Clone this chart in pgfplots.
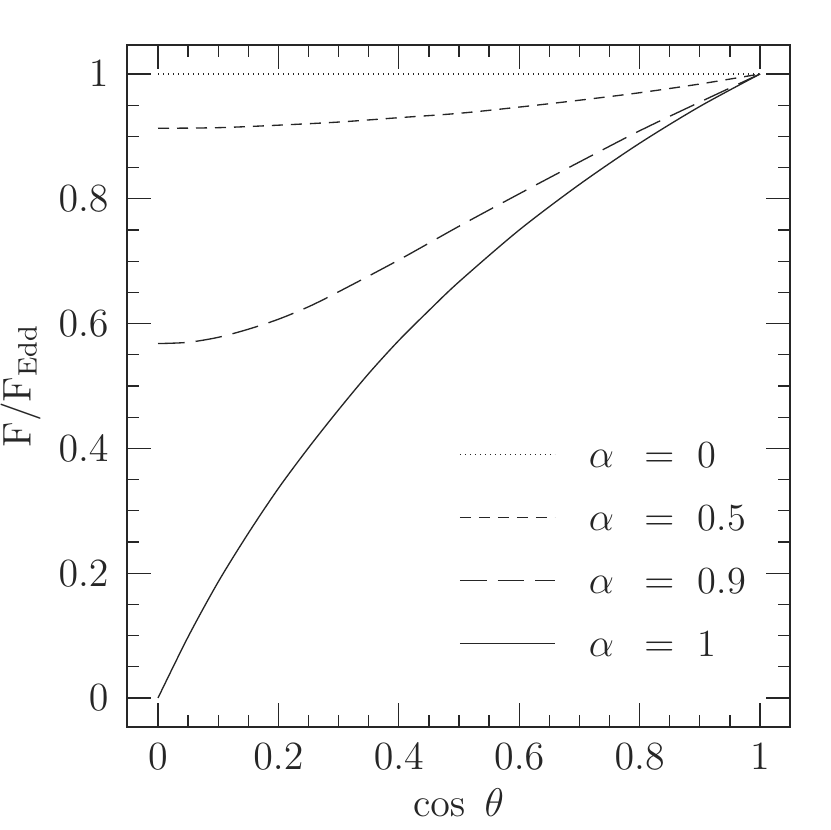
\documentclass[border=0pt]{standalone}
\usepackage{pgfplots}
\pgfplotsset{compat=1.18}
\usetikzlibrary{calc}
\begin{document}
\begin{tikzpicture}
\begin{axis}[
    name=ax,
    scale only axis,
    width=198.9pt, height=204.6pt,
    xmin=-0.0515, xmax=1.0498,
    ymin=-0.0465, ymax=1.0465,
    xtick={0,0.2,0.4,0.6,0.8,1},
    ytick={0,0.2,0.4,0.6,0.8,1},
    minor tick num=3,
    tick align=inside,
    major tick length=7.2pt,
    minor tick length=3.6pt,
    axis line style={black!85, line width=0.4pt},
    every tick/.style={black!85, line width=0.4pt},
    tick label style={font=\fontsize{11.5}{13}\selectfont, black!85},
    xticklabel style={yshift=-1.5pt},
    yticklabel style={xshift=-2pt},
    label style={font=\fontsize{11.5}{13}\selectfont, black!85},
    xlabel={$\cos\ \theta$},
    ylabel={$\mathrm{F/F_{Edd}}$},
    xlabel style={yshift=1pt},
    ylabel style={yshift=-1.5pt},
    legend style={draw=none, fill=none, at={(0.485,0.435)}, anchor=north west,
        font=\fontsize{11.5}{13}\selectfont, row sep=8.9pt,
        text=black!85, nodes={inner sep=1pt, text height=8pt, text depth=0pt}},
    legend cell align=left,
    legend image code/.code={\draw[#1] (0pt,0pt) -- (28.5pt,0pt);},
    /tikz/every even column/.append style={column sep=0pt},
]
% alpha = 0
\addplot[black!85, line width=0.4pt, dash pattern=on 0.4pt off 1.1pt] coordinates {
    (0,1) (1,1)
};
% alpha = 0.5
\addplot[black!85, line width=0.4pt, smooth, dash pattern=on 3.3pt off 2.4pt] coordinates {
    (0,0.913) (0.1,0.914) (0.2,0.918) (0.3,0.923) (0.4,0.930) (0.5,0.937)
    (0.6,0.947) (0.7,0.958) (0.8,0.970) (0.9,0.984) (1,1)
};
% alpha = 0.9
\addplot[black!85, line width=0.4pt, smooth, dash pattern=on 8pt off 3.3pt] coordinates {
    (0,0.568) (0.05,0.570) (0.1,0.578) (0.15,0.591) (0.2,0.607) (0.25,0.627)
    (0.3,0.651) (0.4,0.702) (0.5,0.756) (0.6,0.808) (0.7,0.859) (0.8,0.909)
    (0.9,0.955) (1,1)
};
% alpha = 1
\addplot[black!85, line width=0.4pt, smooth] coordinates {
    (0,0) (0.05,0.098) (0.1,0.186) (0.15,0.264) (0.2,0.336) (0.25,0.401)
    (0.3,0.462) (0.35,0.520) (0.4,0.573) (0.45,0.621) (0.5,0.667) (0.6,0.750)
    (0.7,0.823) (0.8,0.889) (0.9,0.948) (1,1)
};
\legend{{\hspace{9pt}$\alpha$\hspace{9pt}$=$\hspace{7pt}0},
        {\hspace{9pt}$\alpha$\hspace{9pt}$=$\hspace{7pt}0.5},
        {\hspace{9pt}$\alpha$\hspace{9pt}$=$\hspace{7pt}0.9},
        {\hspace{9pt}$\alpha$\hspace{9pt}$=$\hspace{7pt}1}}
\end{axis}
\pgfresetboundingbox
\path ($(ax.south west)+(-38.1pt,-30.9pt)$) rectangle ($(ax.north east)+(12pt,13.5pt)$);
\end{tikzpicture}
\end{document}
